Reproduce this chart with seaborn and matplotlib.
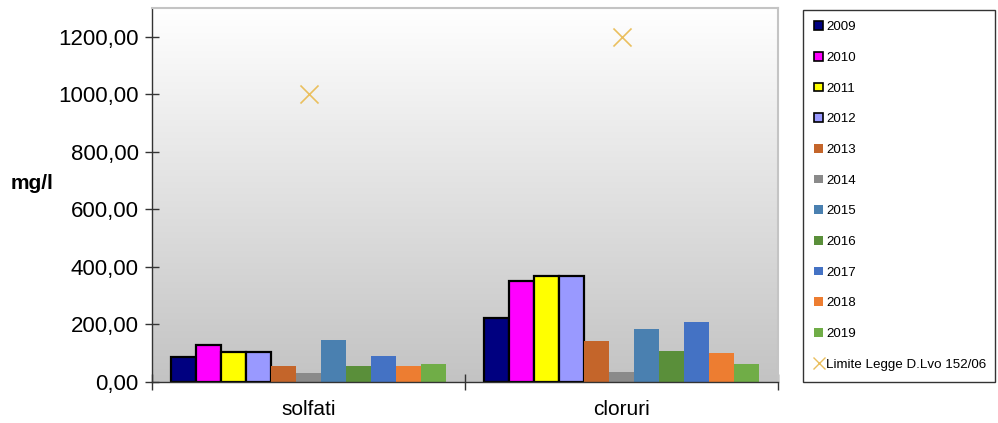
import numpy as np
import pandas as pd
import matplotlib
matplotlib.use("Agg")
import matplotlib.pyplot as plt
import seaborn as sns
from matplotlib.patches import Patch
from matplotlib.lines import Line2D
from matplotlib.ticker import FuncFormatter, FixedLocator
from matplotlib.colors import LinearSegmentedColormap

# ---- data ----
parameters = ["solfati", "cloruri"]
years = ["2009", "2010", "2011", "2012", "2013", "2014", "2015", "2016", "2017", "2018", "2019"]
solfati = [86, 128, 104, 104, 57, 30, 147, 54, 92, 54, 62]
cloruri = [222, 352, 369, 369, 141, 35, 183, 109, 207, 101, 63]
limits = [1000, 1200]
limit_label = "Limite Legge D.Lvo 152/06"
y_ticks = [0, 200, 400, 600, 800, 1000, 1200]

colors = ["#000080", "#ff00ff", "#ffff00", "#9999ff", "#c4652a", "#8a8a8a",
          "#4a80b0", "#5a8f3a", "#4472c4", "#ed7d31", "#70ad47"]
limit_color = "#eabf5e"
bordered = 4

rows = []
for p, vals in zip(parameters, [solfati, cloruri]):
    for y, v in zip(years, vals):
        rows.append({"parameter": p, "year": y, "value": v})
df = pd.DataFrame(rows)

plt.rcParams["font.family"] = ["Liberation Sans", "DejaVu Sans"]

fig = plt.figure(figsize=(9.98, 4.23), dpi=100)
ax = fig.add_axes([152 / 998, 41 / 423, 626 / 998, 374 / 423])

sns.barplot(data=df, x="parameter", y="value", hue="year", order=parameters,
            hue_order=years, palette=colors, width=0.88, gap=0, saturation=1,
            legend=False, ax=ax, zorder=2)

for i, cont in enumerate(ax.containers):
    for bar in cont:
        if i < bordered:
            bar.set_edgecolor("black")
            bar.set_linewidth(1.6)
        else:
            bar.set_edgecolor("none")

sns.stripplot(x=parameters, y=limits, order=parameters, marker="x", color=limit_color,
              size=13, jitter=False, linewidth=1.2, ax=ax, zorder=5)

# gradient background
grad = np.linspace(1, 0, 256).reshape(-1, 1)
cmap = LinearSegmentedColormap.from_list("bg", ["#c3c3c3", "#ffffff"])
ax.imshow(grad, cmap=cmap, aspect="auto", extent=(0, 1, 0, 1),
          transform=ax.transAxes, zorder=0, interpolation="bilinear")
ax.set_xlim(-0.5, 1.5)
ax.set_ylim(0, 1300)

ax.yaxis.set_major_locator(FixedLocator(y_ticks))
ax.yaxis.set_major_formatter(FuncFormatter(lambda v, p: f"{v:.2f}".replace(".", ",")))
ax.tick_params(axis="y", direction="inout", length=9.4, width=1, colors="#333333",
               labelsize=16, labelcolor="black", pad=5)

ax.set_xticks([0, 1])
ax.set_xticklabels(parameters)
ax.set_xticks([-0.5, 0.5, 1.5], minor=True)
ax.tick_params(axis="x", which="major", length=0, labelsize=15, pad=13)
ax.tick_params(axis="x", which="minor", direction="inout", length=11, width=1, colors="#333333")
ax.set_xlabel("")

ax.set_ylabel("mg/l", rotation=0, fontsize=15, fontweight="bold", ha="center", va="center")
ax.yaxis.set_label_coords(-0.192, 0.531)

for s in ["left", "bottom"]:
    ax.spines[s].set_color("#333333")
    ax.spines[s].set_linewidth(1)
for s in ["top", "right"]:
    ax.spines[s].set_color("#c4c4c4")
    ax.spines[s].set_linewidth(1.5)

handles = []
for i, (y, c) in enumerate(zip(years, colors)):
    if i < bordered:
        handles.append(Patch(facecolor=c, edgecolor="black", linewidth=1.2))
    else:
        handles.append(Patch(facecolor=c, edgecolor="none"))
handles.append(Line2D([], [], marker="x", linestyle="none", color=limit_color,
                      markersize=8, markeredgewidth=1))
labels = years + [limit_label]

leg = fig.legend(handles, labels, loc="upper left",
                 bbox_to_anchor=(803 / 998, 45 / 423, 192 / 998, 368 / 423),
                 mode="expand", borderaxespad=0, frameon=True, fancybox=False,
                 edgecolor="black", fontsize=9.6, labelspacing=1.4,
                 handlelength=0.68, handleheight=0.6, handletextpad=0.2,
                 borderpad=0.85)
leg.get_frame().set_linewidth(1)

fig.savefig("out.png", dpi=100)
